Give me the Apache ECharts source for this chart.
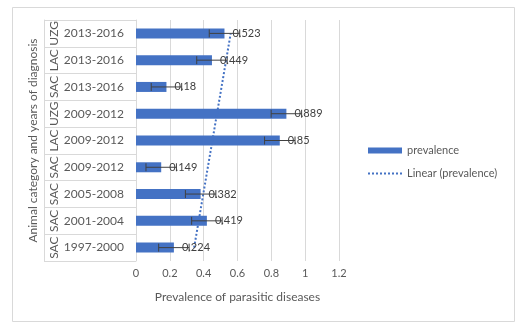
<!DOCTYPE html>
<html>
<head>
<meta charset="utf-8">
<script src="https://cdn.jsdelivr.net/npm/echarts@6/dist/echarts.min.js"></script>
<style>
  html, body { margin: 0; padding: 0; background: #ffffff; }
  #chart { width: 520px; height: 326px; }
</style>
</head>
<body>
<div id="chart"></div>
<script>
// Diagnosis periods (inner label level), bottom row first
const years = ['1997-2000', '2001-2004', '2005-2008', '2009-2012', '2009-2012', '2009-2012', '2013-2016', '2013-2016', '2013-2016'];
// Animal category (outer label level)
const groups = ['SAC', 'SAC', 'SAC', 'SAC', 'LAC', 'UZG', 'SAC', 'LAC', 'UZG'];
// Prevalence per row
const prevalence = [0.224, 0.419, 0.382, 0.149, 0.85, 0.889, 0.18, 0.449, 0.523];
// Standard error shown as error bars
const stdErr = [0.09, 0.09, 0.09, 0.09, 0.09, 0.09, 0.09, 0.09, 0.09];
// Value axis ticks
const xTicks = [0, 0.2, 0.4, 0.6, 0.8, 1, 1.2];

const keys = years.map((y, i) => y + ' ' + groups[i]);

// Least-squares linear trend over the row order (1..n)
const n = prevalence.length;
const xs = prevalence.map((_, i) => i + 1);
const mx = xs.reduce((a, b) => a + b, 0) / n;
const my = prevalence.reduce((a, b) => a + b, 0) / n;
let sxy = 0, sxx = 0;
xs.forEach((x, i) => { sxy += (x - mx) * (prevalence[i] - my); sxx += (x - mx) * (x - mx); });
const slope = sxy / sxx;
const trend = xs.map(x => my + slope * (x - mx));

const FONT = 'Lato';
const GRAY = '#595959';
const LINE = '#d9d9d9';

const chart = echarts.init(document.getElementById('chart'), null, { renderer: 'canvas' });
chart.setOption({
  backgroundColor: '#ffffff',
  animation: false,
  textStyle: { fontFamily: FONT },
  graphic: [{
    type: 'rect', left: 10, top: 5,
    shape: { width: 502, height: 314 },
    style: { fill: 'none', stroke: LINE, lineWidth: 1 },
    silent: true, z: -1
  }],
  grid: { left: 136, right: 181, top: 20, bottom: 65 },
  legend: {
    orient: 'vertical', left: 362, top: 140,
    itemWidth: 34, itemHeight: 6, itemGap: 12,
    textStyle: { color: GRAY, fontSize: 11, fontFamily: FONT },
    data: [
      { name: 'prevalence', icon: 'rect' },
      { name: 'Linear (prevalence)', itemStyle: { opacity: 0 } }
    ]
  },
  xAxis: {
    type: 'value', min: xTicks[0], max: xTicks[xTicks.length - 1], interval: 0.2,
    axisLine: { show: false }, axisTick: { show: false },
    splitLine: { lineStyle: { color: LINE } },
    axisLabel: { color: GRAY, fontSize: 11, margin: 7, formatter: v => String(+v.toFixed(1)) },
    name: 'Prevalence of parasitic diseases', nameLocation: 'middle', nameGap: 30,
    nameTextStyle: { color: GRAY, fontSize: 12 }
  },
  yAxis: [{
    type: 'category', data: keys, position: 'left',
    axisLine: { show: true, lineStyle: { color: LINE } },
    axisTick: { show: true, length: 92, lineStyle: { color: LINE } },
    axisLabel: { interval: 0, color: GRAY, fontSize: 12, margin: 12, formatter: (v, i) => years[i] }
  }, {
    type: 'category', data: keys, position: 'left', offset: 92,
    axisLine: { show: true, lineStyle: { color: LINE } },
    axisTick: { show: false },
    axisLabel: { interval: 0, inside: true, rotate: 90, color: GRAY, fontSize: 12, margin: 4, formatter: (v, i) => groups[i] },
    name: 'Animal category and years of diagnosis', nameLocation: 'middle', nameRotate: 90, nameGap: 5,
    nameTextStyle: { color: GRAY, fontSize: 12 }
  }],
  series: [{
    name: 'prevalence', type: 'bar', yAxisIndex: 0,
    data: prevalence, barWidth: 10,
    itemStyle: { color: '#4472C4' }, z: 2
  }, {
    name: 'Linear (prevalence)', type: 'line', yAxisIndex: 0,
    data: trend, symbol: 'none', showSymbol: false,
    lineStyle: { color: '#4472C4', width: 2, type: [2, 2] },
    itemStyle: { color: '#4472C4' }, z: 3
  }, {
    name: 'errors', type: 'custom', yAxisIndex: 0,
    data: prevalence.map((v, i) => [i, v, stdErr[i]]),
    encode: { y: 0, x: 1 }, z: 4,
    renderItem: (params, api) => {
      const idx = api.value(0), v = api.value(1), e = api.value(2);
      const a = api.coord([v - e, idx]);
      const b = api.coord([v + e, idx]);
      const c = api.coord([v, idx]);
      const h = 4;
      const stroke = { stroke: '#404040', lineWidth: 1 };
      return {
        type: 'group',
        children: [
          { type: 'line', shape: { x1: a[0], y1: a[1], x2: b[0], y2: b[1] }, style: stroke },
          { type: 'line', shape: { x1: a[0], y1: a[1] - h, x2: a[0], y2: a[1] + h }, style: stroke },
          { type: 'line', shape: { x1: b[0], y1: b[1] - h, x2: b[0], y2: b[1] + h }, style: stroke },
          { type: 'text', x: c[0] + 8, y: c[1],
            style: { text: String(prevalence[params.dataIndex]), fill: '#404040', fontSize: 11, fontFamily: FONT, verticalAlign: 'middle', align: 'left' } }
        ]
      };
    }
  }]
});
</script>
</body>
</html>
